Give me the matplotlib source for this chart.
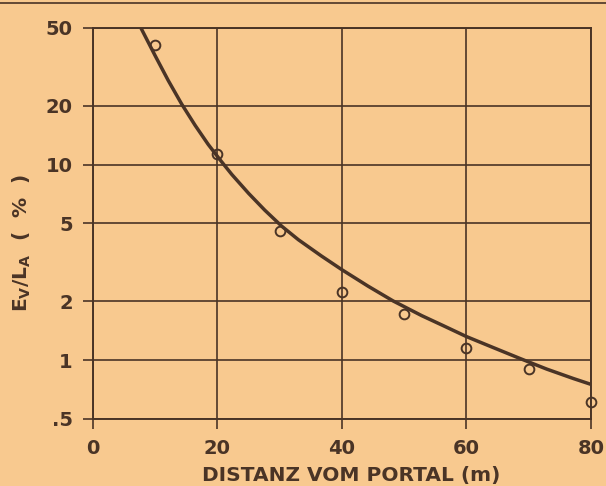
import numpy as np
import matplotlib
matplotlib.use("Agg")
import matplotlib.pyplot as plt
from matplotlib.lines import Line2D

plt.rcParams['font.family'] = ['DejaVu Sans']
plt.rcParams['mathtext.fontset'] = 'custom'
plt.rcParams['mathtext.rm'] = 'DejaVu Sans:bold'
plt.rcParams['mathtext.it'] = 'DejaVu Sans:bold'

# measured points (distance in m, Ev/LA in %)
dist_pts = [10, 20, 30, 40, 50, 60, 70, 80]
ratio_pts = [41, 11.4, 4.6, 2.22, 1.73, 1.15, 0.90, 0.61]

# fitted curve
dist_curve = [7.7, 10.0, 12.1, 14.25, 16.4, 18.5, 20.4, 22.3, 25.0, 27.6, 30.3, 33.0,
              36.7, 40.0, 44.2, 48.2, 52.8, 56.3, 60.0, 64.3, 68.6, 72.9, 77.2, 80.0]
ratio_curve = [50, 36.0, 26.9, 20.4, 15.9, 12.7, 10.6, 8.91, 7.13, 5.85, 4.85, 4.13,
               3.41, 2.90, 2.39, 2.01, 1.69, 1.50, 1.32, 1.16, 1.02, 0.90, 0.805, 0.752]

xticks = [0, 20, 40, 60, 80]
yticks = [0.5, 1, 2, 5, 10, 20, 50]
ytick_labels = ['.5', '1', '2', '5', '10', '20', '50']

bg = '#f8c98f'
ink = '#4a3426'

fig = plt.figure(figsize=(6.06, 4.86), dpi=100, facecolor=bg)
ax = fig.add_axes([0.1535, 0.1379, 0.8215, 0.8045], facecolor=bg)

ax.set_yscale('log')
ax.set_xlim(0, 80)
ax.set_ylim(0.5, 50)
ax.set_xticks(xticks)
ax.set_yticks(yticks)
ax.set_yticklabels(ytick_labels)
ax.yaxis.set_minor_locator(matplotlib.ticker.NullLocator())

ax.grid(True, color=ink, linewidth=1.2)
ax.set_axisbelow(True)
for s in ax.spines.values():
    s.set_color(ink)
    s.set_linewidth(1.4)

ax.tick_params(axis='both', color=ink, width=1.2, length=7.5, labelcolor=ink, labelsize=14)
ax.tick_params(axis='y', pad=7)
ax.tick_params(axis='x', pad=7)
for lab in ax.get_xticklabels() + ax.get_yticklabels():
    lab.set_fontweight('bold')

ax.plot(dist_curve, ratio_curve, color=ink, linewidth=2.5, solid_joinstyle='round')
ax.plot(dist_pts, ratio_pts, 'o', markersize=7, markerfacecolor='none',
        markeredgecolor=ink, markeredgewidth=1.4, clip_on=False)

ax.set_xlabel('DISTANZ VOM PORTAL (m)', fontsize=14.5, fontweight='bold', color=ink)
ax.xaxis.set_label_coords(0.518, -0.12)
ax.set_ylabel(r'$\mathregular{E_V/L_A}$  (  %  )', fontsize=14.5,
              fontweight='bold', color=ink)
ax.yaxis.set_label_coords(-0.12, 0.45)

# rule along the top of the page
fig.add_artist(Line2D([0, 1], [0.993, 0.993], color=ink, linewidth=1.2))

fig.savefig('out.png', dpi=100, facecolor=bg)
